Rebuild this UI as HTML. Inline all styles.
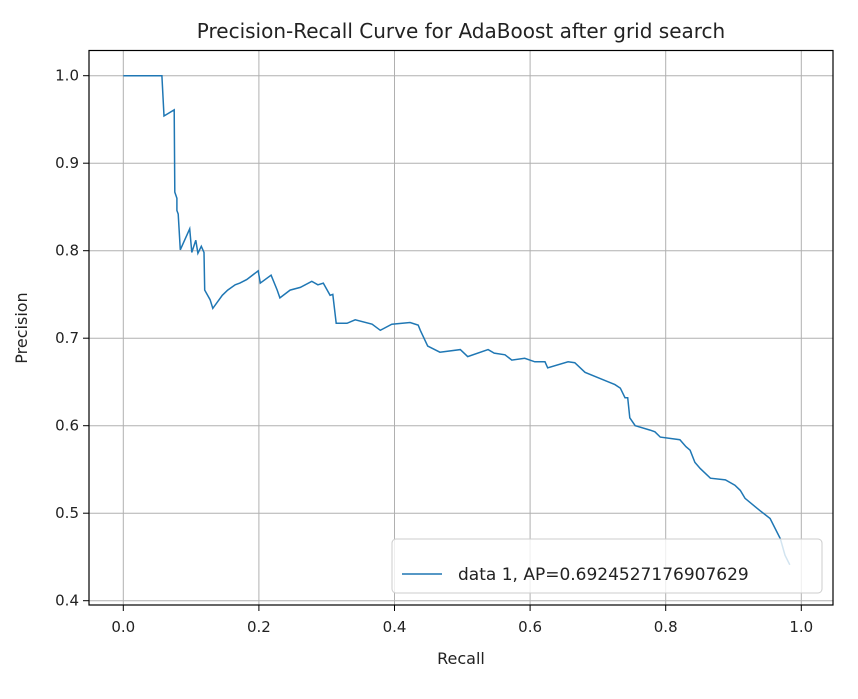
<!DOCTYPE html>
<html><head><meta charset="utf-8"><style>
body{margin:0;background:#fff;}
svg text{font-family:"DejaVu Sans","Liberation Sans",sans-serif;fill:#222;}
</style></head><body>
<svg id="chart" width="858" height="694" xmlns="http://www.w3.org/2000/svg">
<rect width="858" height="694" fill="#fff"/>
<g id="grid"></g><g id="ticks"></g>
<path id="curve" fill="none" stroke="#1f77b4" stroke-width="1.5"/>
<rect x="89" y="50.5" width="744" height="554.5" fill="none" stroke="#000" stroke-width="1.2"/>
<text x="461" y="38" font-size="20" text-anchor="middle">Precision-Recall Curve for AdaBoost after grid search</text>
<text x="461" y="664" font-size="16" text-anchor="middle">Recall</text>
<text x="27" y="328" font-size="16" text-anchor="middle" transform="rotate(-90 27 328)">Precision</text>
<g>
<rect x="392" y="539" width="430" height="54" rx="4" fill="#fff" fill-opacity="0.8" stroke="#ccc"/>
<line x1="402" y1="574" x2="442" y2="574" stroke="#1f77b4" stroke-width="1.5"/>
<text x="458" y="580" font-size="17">data 1, AP=0.6924527176907629</text>
</g>
</svg>
<script>
const recall=[0,0.057,0.060,0.075,0.076,0.079,0.079,0.081,0.084,0.098,0.101,0.107,0.110,0.115,0.119,0.120,0.128,0.132,0.146,0.154,0.165,0.172,0.182,0.199,0.202,0.218,0.227,0.231,0.246,0.261,0.278,0.287,0.295,0.305,0.309,0.314,0.330,0.342,0.367,0.379,0.396,0.423,0.435,0.438,0.449,0.467,0.497,0.508,0.538,0.547,0.563,0.573,0.592,0.607,0.622,0.626,0.656,0.666,0.681,0.703,0.725,0.733,0.740,0.744,0.747,0.755,0.777,0.784,0.792,0.821,0.830,0.836,0.843,0.851,0.866,0.888,0.902,0.910,0.917,0.939,0.954,0.969,0.976,0.983];
const precision=[1,1,0.954,0.961,0.867,0.860,0.846,0.842,0.801,0.825,0.798,0.812,0.797,0.805,0.798,0.755,0.744,0.734,0.749,0.755,0.761,0.763,0.767,0.777,0.763,0.772,0.755,0.746,0.755,0.758,0.765,0.761,0.763,0.749,0.750,0.717,0.717,0.721,0.716,0.709,0.716,0.718,0.715,0.709,0.691,0.684,0.687,0.679,0.687,0.683,0.681,0.675,0.677,0.673,0.673,0.666,0.673,0.672,0.661,0.654,0.647,0.643,0.632,0.632,0.609,0.600,0.595,0.593,0.587,0.584,0.576,0.572,0.558,0.551,0.540,0.538,0.532,0.526,0.517,0.503,0.494,0.471,0.452,0.441];
const xTicks=[0,0.2,0.4,0.6,0.8,1.0];
const yTicks=[0.4,0.5,0.6,0.7,0.8,0.9,1.0];
const X=v=>123.3+v*678;
const Y=v=>75.7+(1-v)*875;
const NS="http://www.w3.org/2000/svg";
const grid=document.getElementById('grid'),ticks=document.getElementById('ticks');
function mk(tag,attrs,parent){const e=document.createElementNS(NS,tag);for(const k in attrs)e.setAttribute(k,attrs[k]);parent.appendChild(e);return e;}
xTicks.forEach(t=>{
 const g=mk('line',{x1:X(t),x2:X(t),y1:50.5,y2:605,stroke:'#b0b0b0','stroke-width':1},grid);
 
 
 mk('line',{x1:X(t),x2:X(t),y1:605,y2:611,stroke:'#000'},ticks);
 const l=mk('text',{x:X(t),y:632,'font-size':15,'text-anchor':'middle'},ticks);
 l.textContent=t.toFixed(1);
 
 
});
yTicks.forEach(t=>{
 const g=mk('line',{x1:89,x2:833,y1:Y(t),y2:Y(t),stroke:'#b0b0b0','stroke-width':1},grid);
 
 
 mk('line',{x1:83,x2:89,y1:Y(t),y2:Y(t),stroke:'#000'},ticks);
 const l=mk('text',{x:79,y:Y(t)+5,'font-size':15,'text-anchor':'end'},ticks);
 l.textContent=t.toFixed(1);
 
 
});
document.getElementById('curve').setAttribute('d',recall.map((r,i)=>(i?'L':'M')+X(r).toFixed(1)+','+Y(precision[i]).toFixed(1)).join(''));
</script>
</body></html>
